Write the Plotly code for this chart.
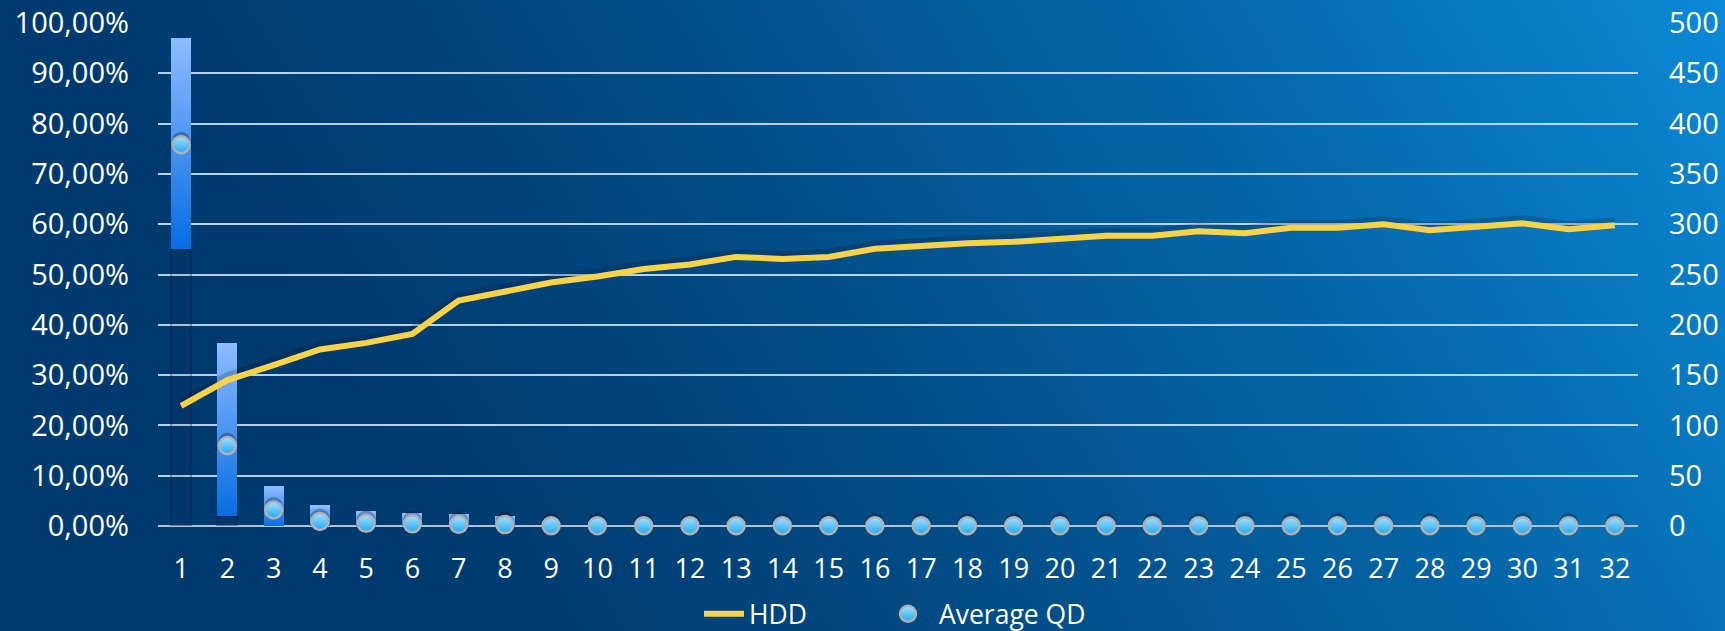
import base64
import struct
import zlib

import numpy as np
import plotly.graph_objects as go

# ---- data -------------------------------------------------------------
categories = list(range(1, 33))

hdd_pct = [23.9, 29.0, 32.0, 35.1, 36.4, 38.2, 44.8, 46.6, 48.4, 49.6,
           51.1, 52.0, 53.5, 53.1, 53.5, 55.1, 55.7, 56.2, 56.5, 57.1,
           57.7, 57.7, 58.6, 58.2, 59.3, 59.3, 60.0, 58.8, 59.6, 60.2,
           59.0, 59.8]

avg_qd = [379, 80, 16, 4.5, 2.7, 2.2, 1.7, 1.4, 0.3, 0.3,
          0.3, 0.3, 0.3, 0.3, 0.3, 0.3, 0.3, 0.3, 0.3, 0.3,
          0.3, 0.3, 0.3, 0.3, 0.3, 0.3, 0.3, 0.3, 0.3, 0.3,
          0.3, 0.3]

range_cats = [1, 2, 3, 4, 5, 6, 7, 8]
range_low = [55.1, 1.9, 0.0, 0.0, 0.0, 0.0, 0.0, 0.0]
range_high = [97.0, 36.4, 7.8, 4.0, 2.8, 2.4, 2.2, 1.8]

# ---- canvas geometry ----------------------------------------------------
W, H = 1725, 631
M_L, M_R, M_T, M_B = 158, 87, 23, 105
PW, PH = W - M_L - M_R, H - M_T - M_B

FONT = "Open Sans"


def gradient_png(w, h):
    """Diagonal navy -> bright blue backdrop, returned as a PNG data URI."""
    xs = (np.arange(w) + 0.5) * (W / w)
    ys = (np.arange(h) + 0.5) * (H / h)
    X, Y = np.meshgrid(xs, ys)
    s = (X - 400 + 0.6 * (H - Y)) / (W - 400 + 0.6 * H)
    t = np.clip(s, 0, 1) ** 1.4
    c0 = np.array([0x00, 0x3a, 0x6e], float)
    c1 = np.array([0x0a, 0x8a, 0xd6], float)
    img = (c0 + (c1 - c0) * t[..., None]).round().astype(np.uint8)
    raw = b"".join(b"\x00" + img[r].tobytes() for r in range(h))

    def chunk(tag, data):
        return (struct.pack(">I", len(data)) + tag + data
                + struct.pack(">I", zlib.crc32(tag + data) & 0xffffffff))

    png = (b"\x89PNG\r\n\x1a\n"
           + chunk(b"IHDR", struct.pack(">IIBBBBB", w, h, 8, 2, 0, 0, 0))
           + chunk(b"IDAT", zlib.compress(raw, 9))
           + chunk(b"IEND", b""))
    return "data:image/png;base64," + base64.b64encode(png).decode()


def mix(c_a, c_b, f):
    return "rgb({},{},{})".format(*[round(a + (b - a) * f) for a, b in zip(c_a, c_b)])


def px_x(px):
    """Horizontal canvas pixel -> paper fraction."""
    return (px - M_L) / PW


fig = go.Figure()

BAR_W = 0.43

# stacked: a faint column up to the low end, then the shaded range on top
fig.add_trace(go.Bar(
    x=range_cats, y=range_low, width=BAR_W,
    marker=dict(color="rgba(0,18,45,0.08)",
                line=dict(color="rgba(0,18,45,0.30)", width=2)),
    showlegend=False, hoverinfo="skip"))

N_SLICES = 60
bottom_rgb = (0x06, 0x6c, 0xe2)
top_rgb = (0x8e, 0xbc, 0xff)
for k in range(N_SLICES):
    fig.add_trace(go.Bar(
        x=range_cats,
        y=[(hi - lo) / N_SLICES for lo, hi in zip(range_low, range_high)],
        width=BAR_W,
        marker=dict(color=mix(bottom_rgb, top_rgb, (k + 0.5) / N_SLICES), line_width=0),
        showlegend=False, hoverinfo="skip"))

# HDD line: soft shadow then the line itself
fig.add_trace(go.Scatter(
    x=categories, y=hdd_pct, yaxis="y2", mode="lines",
    line=dict(color="rgba(0,12,35,0.20)", width=8),
    showlegend=False, hoverinfo="skip", cliponaxis=False))
fig.add_trace(go.Scatter(
    x=categories, y=hdd_pct, yaxis="y3", mode="lines", name="HDD",
    line=dict(color="#f9d347", width=6), cliponaxis=False, legend="legend"))

# Average QD markers: shadow then marker
fig.add_trace(go.Scatter(
    x=categories, y=avg_qd, yaxis="y4", mode="markers",
    marker=dict(size=18, color="rgba(0,12,35,0.28)", line_width=0),
    showlegend=False, hoverinfo="skip", cliponaxis=False))
fig.add_trace(go.Scatter(
    x=categories, y=avg_qd, yaxis="y5", mode="markers", name="Average QD",
    marker=dict(size=17, color="#a2e2ff",
                gradient=dict(type="vertical", color="#22a8f6"),
                line=dict(color="#b0b0b0", width=2.5)),
    cliponaxis=False, legend="legend2"))

tick_font = dict(family=FONT, size=29, color="white")
legend_font = dict(family=FONT, size=26.5, color="white")
shift_px = 4
hidden = dict(overlaying="y", visible=False, showgrid=False, zeroline=False)

fig.update_layout(
    width=W, height=H,
    margin=dict(l=M_L, r=M_R, t=M_T, b=M_B, pad=0, autoexpand=False),
    paper_bgcolor="#003a6e",
    plot_bgcolor="rgba(0,0,0,0)",
    separators=",.",
    barmode="stack",
    bargap=0,
    font=dict(family=FONT, color="white"),
    xaxis=dict(range=[0.5, 32.5], tickmode="array", tickvals=categories,
               ticktext=[str(c) for c in categories],
               showgrid=False, zeroline=False, showline=False, ticks="",
               tickfont=dict(family=FONT, size=27, color="white"),
               ticklabelstandoff=24, automargin=False),
    yaxis=dict(range=[0, 100], dtick=10, tickformat=".2f", ticksuffix="%",
               showgrid=True, gridcolor="rgba(200,226,246,0.9)", gridwidth=2,
               zeroline=True, zerolinecolor="rgba(185,200,215,0.95)", zerolinewidth=2,
               showline=False, ticks="", tickfont=tick_font,
               ticklabelstandoff=28, automargin=False),
    yaxis2=dict(range=[-shift_px * 100 / PH, 100 - shift_px * 100 / PH], **hidden),
    yaxis3=dict(range=[0, 100], **hidden),
    yaxis4=dict(range=[-shift_px * 500 / PH, 500 - shift_px * 500 / PH], **hidden),
    yaxis5=dict(range=[0, 500], dtick=50, overlaying="y", side="right",
                showgrid=False, zeroline=False, showline=False, ticks="",
                tickfont=tick_font, ticklabelstandoff=30, automargin=False),
    legend=dict(orientation="h", x=px_x(699), xanchor="left",
                y=-0.175, yanchor="middle", font=legend_font,
                bgcolor="rgba(0,0,0,0)", itemwidth=40),
    legend2=dict(orientation="h", x=px_x(877), xanchor="left",
                 y=-0.175, yanchor="middle", font=legend_font,
                 bgcolor="rgba(0,0,0,0)", itemwidth=52),
    images=[dict(source=gradient_png(345, 127), xref="paper", yref="paper",
                 x=-M_L / PW, y=1 + M_T / PH, sizex=W / PW, sizey=H / PH,
                 xanchor="left", yanchor="top", sizing="stretch", layer="below")],
)

fig.write_html("out.html")
